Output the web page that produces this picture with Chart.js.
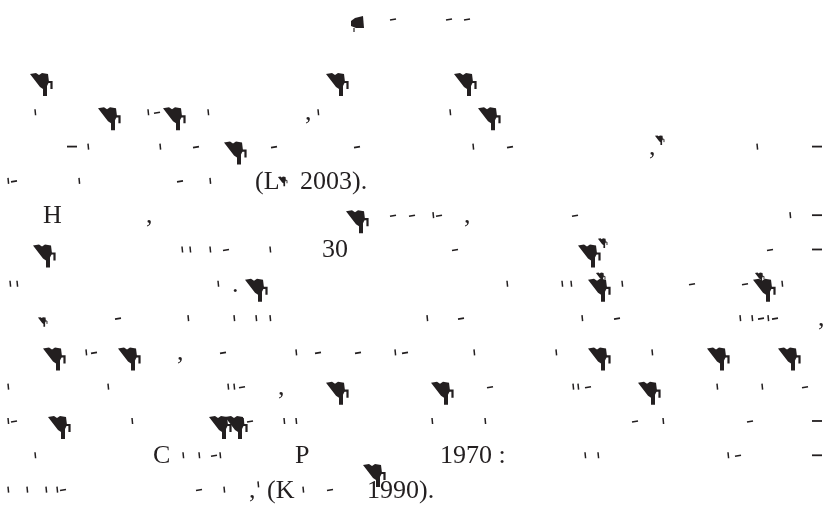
<!DOCTYPE html>
<html>
<head>
<meta charset="utf-8">
<script src="https://cdn.jsdelivr.net/npm/chart.js@4.4.0/dist/chart.umd.min.js"></script>
<style>
  html, body { margin: 0; background: #fff; }
</style>
</head>
<body>
<canvas id="page" width="824" height="523"></canvas>
<script>
// x = position along the line (page px), y = text line number (title is about -0.7)
const words = [
  [255, 4, "(L"], [300, 4, "2003)."],
  [43, 5, "H"],
  [322, 6, "30"],
  [153, 12, "C"], [295, 12, "P"], [440, 12, "1970 :"],
  [267, 13, "(K"], [367, 13, "1990)."],
];
const bigGlyphs = [
  [42, 1], [338, 1], [466, 1],
  [110, 2], [175, 2], [490, 2],
  [236, 3],
  [358, 5],
  [45, 6], [590, 6],
  [257, 7], [600, 7], [765, 7],
  [55, 9], [130, 9], [600, 9], [719, 9], [790, 9],
  [338, 10], [443, 10], [650, 10],
  [60, 11], [221, 11], [237, 11],
  [375, 12.4],
];
const smallGlyphs = [
  [660, 2.6], [283, 3.8], [603, 5.6], [601, 6.6], [760, 6.6], [43, 7.9],
];
const titleGlyphs = [[358, -0.72]];
const ticks = [
  [35, 2], [148, 2], [208, 2], [318, 2], [450, 2],
  [88, 3], [160, 3], [473, 3], [757, 3],
  [8, 4], [79, 4], [210, 4],
  [433, 5], [790, 5],
  [182, 6], [190, 6], [210, 6], [270, 6],
  [10, 7], [17, 7], [218, 7], [507, 7], [562, 7], [571, 7], [622, 7], [782, 7],
  [188, 8], [234, 8], [256, 8], [270, 8], [427, 8], [582, 8], [740, 8], [752, 8], [768, 8],
  [86, 9], [296, 9], [395, 9], [474, 9], [556, 9], [652, 9],
  [8, 10], [108, 10], [228, 10], [234, 10], [573, 10], [578, 10], [717, 10], [762, 10],
  [8, 11], [132, 11], [243, 11], [284, 11], [296, 11], [432, 11], [485, 11], [663, 11],
  [35, 12], [183, 12], [199, 12], [220, 12], [585, 12], [598, 12], [728, 12],
  [8, 13], [27, 13], [46, 13], [57, 13], [224, 13], [258, 12.85], [303, 13],
];
const dashes = [
  [393, -0.72], [449, -0.72], [467, -0.72],
  [157, 2],
  [196, 3], [274, 3], [357, 3], [510, 3],
  [14, 4], [180, 4],
  [393, 5], [412, 5], [439, 5], [575, 5],
  [226, 6], [455, 6], [770, 6],
  [692, 7], [745, 7],
  [118, 8], [461, 8], [617, 8], [761, 8], [775, 8],
  [94, 9], [223, 9], [318, 9], [358, 9], [405, 9],
  [242, 10], [490, 10], [588, 10], [805, 10],
  [14, 11], [250, 11], [635, 11], [750, 11],
  [214, 12], [738, 12],
  [63, 13], [199, 13], [330, 13],
];
const longDashes = [
  [72, 3], [817, 3], [817, 5], [817, 6], [817, 11], [817, 12],
];
const commas = [
  [305, 2], [649, 3], [146, 5], [464, 5], [818, 8], [177, 9], [278, 10], [249, 13],
];
const periods = [[232, 7]];

const INK = "#231f20";
const FONT = "26px 'Liberation Serif', serif";

const toPoints = (rows) => rows.map((r) => ({ x: r[0], y: r[1], t: r[2] }));

const glyph = (ctx, x, y, s) => {
  ctx.save();
  ctx.translate(x, y);
  ctx.scale(s, s);
  ctx.beginPath();
  ctx.moveTo(-12, -12);
  ctx.lineTo(-6, -13);
  ctx.lineTo(-3, -11);
  ctx.lineTo(0, -13);
  ctx.lineTo(6, -12);
  ctx.lineTo(7, -4);
  ctx.lineTo(5, 0);
  ctx.lineTo(5, 10);
  ctx.lineTo(1, 10);
  ctx.lineTo(1, 3);
  ctx.lineTo(-2, 1);
  ctx.closePath();
  ctx.fill();
  ctx.lineWidth = 2.2;
  ctx.beginPath();
  ctx.moveTo(6, -4);
  ctx.lineTo(9.5, -4);
  ctx.lineTo(9.5, 3);
  ctx.stroke();
  ctx.restore();
};

const titleGlyph = (ctx, x, y) => {
  ctx.beginPath();
  ctx.moveTo(x - 7, y - 6);
  ctx.lineTo(x - 3, y - 9);
  ctx.lineTo(x + 5, y - 11);
  ctx.lineTo(x + 6, y + 1);
  ctx.lineTo(x - 2, y + 1);
  ctx.lineTo(x - 7, y - 1);
  ctx.closePath();
  ctx.fill();
  ctx.lineWidth = 1.2;
  ctx.beginPath();
  ctx.moveTo(x - 4, y + 1);
  ctx.lineTo(x - 4, y + 5);
  ctx.stroke();
};

const inkPlugin = {
  id: "ink",
  afterDatasetsDraw(chart) {
    const ctx = chart.ctx;
    ctx.save();
    ctx.fillStyle = INK;
    ctx.strokeStyle = INK;
    ctx.font = FONT;
    ctx.textBaseline = "alphabetic";
    chart.data.datasets.forEach((ds, i) => {
      chart.getDatasetMeta(i).data.forEach((el, j) => {
        const x = el.x;
        const y = el.y;
        if (ds.kind === "word") {
          ctx.fillText(ds.data[j].t, x, y);
        } else if (ds.kind === "big") {
          glyph(ctx, x, y, 1);
        } else if (ds.kind === "small") {
          glyph(ctx, x, y, 0.42);
        } else if (ds.kind === "title") {
          titleGlyph(ctx, x, y);
        } else if (ds.kind === "tick") {
          ctx.lineWidth = 1.5;
          ctx.beginPath();
          ctx.moveTo(x, y - 11);
          ctx.lineTo(x + 0.6, y - 5);
          ctx.stroke();
        } else if (ds.kind === "dash") {
          ctx.lineWidth = 1.6;
          ctx.beginPath();
          ctx.moveTo(x - 3, y - 7);
          ctx.lineTo(x + 3, y - 8);
          ctx.stroke();
        } else if (ds.kind === "long") {
          ctx.lineWidth = 1.8;
          ctx.beginPath();
          ctx.moveTo(x - 5, y - 8);
          ctx.lineTo(x + 5, y - 8);
          ctx.stroke();
        } else if (ds.kind === "comma") {
          ctx.fillText(",", x, y);
        } else if (ds.kind === "period") {
          ctx.fillText(".", x, y);
        }
      });
    });
    ctx.restore();
  },
};

const makeSet = (kind, rows) => ({
  kind: kind,
  data: toPoints(rows),
  pointRadius: 0,
  pointHoverRadius: 0,
});

new Chart(document.getElementById("page"), {
  type: "scatter",
  data: {
    datasets: [
      makeSet("word", words),
      makeSet("big", bigGlyphs),
      makeSet("small", smallGlyphs),
      makeSet("title", titleGlyphs),
      makeSet("tick", ticks),
      makeSet("dash", dashes),
      makeSet("long", longDashes),
      makeSet("comma", commas),
      makeSet("period", periods),
    ],
  },
  options: {
    responsive: false,
    animation: false,
    layout: { padding: 0 },
    scales: {
      x: { type: "linear", min: 0, max: 824, display: false },
      y: { type: "linear", min: -1.507, max: 13.741, reverse: true, display: false },
    },
    plugins: {
      legend: { display: false },
      tooltip: { enabled: false },
    },
    events: [],
  },
  plugins: [inkPlugin],
});
</script>
</body>
</html>
